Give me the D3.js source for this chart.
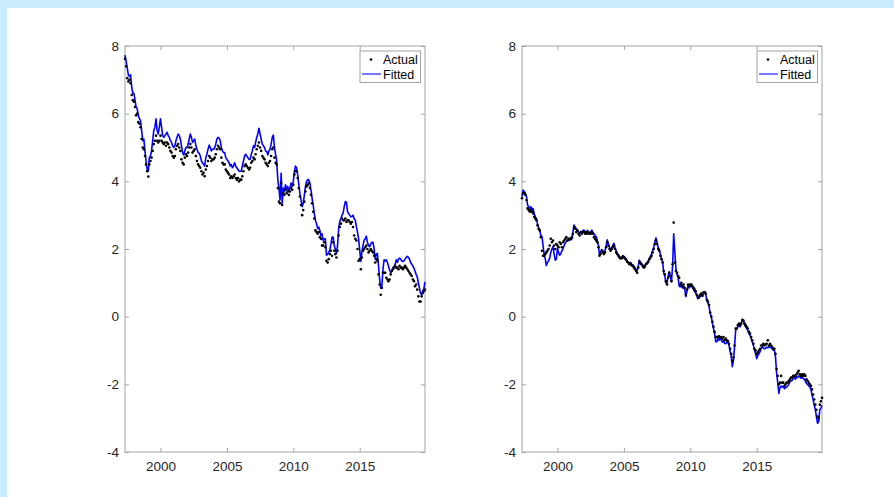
<!DOCTYPE html>
<html>
<head>
<meta charset="utf-8">
<script src="https://cdn.jsdelivr.net/npm/d3@7"></script>
<style>
html,body{margin:0;padding:0;background:#c9ecfc;}
svg{display:block;}
text{font-family:"Liberation Sans",Arial,Helvetica,sans-serif;}
</style>
</head>
<body>
<svg id="chart" width="894" height="497"></svg>
<script>
// ---- data: monthly observations, May 1997 .. Dec 2019 ----
const startYear = 1997, startMonth = 4; // May (0-based)
const yTicks = [-4, -2, 0, 2, 4, 6, 8];
const xTickYears = [2000, 2005, 2010, 2015];
const legendLabels = ["Actual", "Fitted"];

// Left panel
const actualLeft = [
  7.62,7.4,7.05,6.95,7.0,6.9,6.55,6.4,
  6.35,6.2,5.95,6.0,5.75,5.7,5.6,5.25,5.0,4.95,4.75,4.5,
  4.3,4.14,4.5,4.6,4.7,4.9,5.1,5.2,5.35,5.2,5.15,5.2,
  5.35,5.2,5.15,5.1,5.15,5.05,5.15,5.1,5.0,4.9,4.85,4.75,
  4.7,4.75,4.95,5.05,5.1,5.0,4.9,4.65,4.55,4.5,4.7,4.8,
  4.75,4.85,5.0,5.1,5.0,4.85,4.9,4.95,4.75,4.6,4.5,4.45,
  4.4,4.3,4.2,4.25,4.15,4.35,4.45,4.6,4.75,4.7,4.6,4.65,
  4.65,4.7,4.8,4.95,5.05,5.0,4.95,4.7,4.55,4.5,4.5,4.35,
  4.3,4.25,4.2,4.1,4.15,4.1,4.15,4.2,4.1,4.05,4.1,4.0,
  4.05,4.05,4.15,4.3,4.45,4.5,4.45,4.4,4.35,4.4,4.55,4.6,
  4.7,4.65,4.8,4.95,5.05,5.15,5.0,4.9,4.75,4.7,4.65,4.55,
  4.5,4.45,4.55,4.6,4.75,4.95,5.0,4.7,4.55,4.5,3.8,3.4,
  3.35,3.95,3.3,3.65,3.6,3.75,3.65,3.7,3.6,3.7,3.8,3.75,
  3.9,4.2,4.3,4.3,4.1,3.8,3.55,3.3,3.0,3.15,3.4,3.7,
  3.85,3.9,3.95,3.8,3.6,3.35,3.1,2.9,2.55,2.5,2.45,2.5,
  2.35,2.3,2.1,2.1,2.2,2.05,1.65,1.6,1.7,1.85,1.95,1.8,
  2.2,1.95,1.85,1.75,1.95,2.4,2.65,2.75,2.9,2.85,2.85,2.9,
  2.8,2.85,2.85,2.8,2.75,2.8,2.65,2.4,2.3,2.25,2.0,1.65,
  1.7,1.4,1.75,1.95,2.0,2.05,2.1,2.0,1.9,1.95,2.0,1.95,
  1.9,1.8,1.6,1.7,1.65,1.25,0.95,0.65,0.85,1.3,1.3,1.3,
  1.15,1.1,1.05,1.1,1.25,1.35,1.4,1.45,1.5,1.45,1.45,1.4,
  1.5,1.45,1.45,1.4,1.45,1.5,1.45,1.4,1.35,1.3,1.25,1.2,
  1.1,1.05,0.9,0.95,0.8,0.6,0.45,0.45,0.6,0.7,0.75,0.8
];
const fittedLeft = [
  7.73,7.55,7.35,7.15,7.1,7.15,6.8,6.6,
  6.6,6.4,6.2,6.15,5.95,5.85,5.8,5.5,5.2,5.25,4.9,4.6,
  4.35,4.3,4.7,4.75,4.9,5.2,5.5,5.6,5.85,5.5,5.4,5.6,
  5.85,5.6,5.35,5.3,5.35,5.4,5.45,5.35,5.3,5.2,5.15,5.05,
  5.0,5.05,5.2,5.3,5.4,5.35,5.25,5.05,4.85,4.78,4.9,5.0,
  5.0,5.1,5.25,5.4,5.3,5.15,5.2,5.25,5.05,4.95,4.85,4.83,
  4.75,4.6,4.55,4.5,4.45,4.7,4.8,4.95,5.07,5.0,4.9,4.95,
  4.95,5.0,5.1,5.25,5.3,5.28,5.2,5.0,4.9,4.85,4.85,4.7,
  4.65,4.6,4.55,4.45,4.5,4.4,4.45,4.55,4.45,4.4,4.35,4.3,
  4.3,4.3,4.45,4.6,4.75,4.8,4.75,4.7,4.65,4.65,4.8,4.9,
  5.05,5.0,5.15,5.3,5.4,5.57,5.4,5.25,5.1,5.05,5.0,4.9,
  4.88,4.78,4.9,4.95,5.1,5.3,5.37,5.0,4.8,4.6,4.05,3.8,
  3.45,4.24,3.35,3.8,3.7,3.9,3.75,3.85,3.7,3.8,3.95,3.85,
  4.0,4.3,4.45,4.4,4.2,3.9,3.65,3.45,3.25,3.35,3.6,3.85,
  4.0,4.05,4.05,3.95,3.75,3.5,3.3,3.05,2.85,2.75,2.6,2.65,
  2.55,2.4,2.45,2.25,2.3,2.3,1.82,1.85,1.9,1.97,2.15,2.35,
  2.35,2.1,2.0,1.87,2.1,2.6,2.81,2.9,3.0,3.06,3.25,3.4,
  3.38,3.1,3.05,3.0,2.95,2.96,3.0,2.9,2.85,2.66,2.5,2.3,
  1.97,1.63,1.9,2.1,2.26,2.3,2.38,2.2,2.1,2.07,2.15,2.2,
  2.2,2.0,1.7,1.85,1.87,1.5,1.1,0.84,0.9,1.4,1.68,1.65,
  1.68,1.6,1.5,1.38,1.3,1.35,1.45,1.48,1.55,1.68,1.6,1.7,
  1.73,1.7,1.65,1.63,1.65,1.7,1.75,1.78,1.75,1.7,1.6,1.55,
  1.5,1.43,1.35,1.25,1.18,1.0,0.85,0.69,0.65,0.75,0.84,1.03
];

// Right panel
const actualRight = [
  3.5,3.65,3.65,3.6,3.45,3.2,3.15,3.1,
  3.15,3.1,3.05,2.95,2.9,2.85,2.7,2.6,2.55,2.35,1.95,1.8,
  1.8,1.85,1.9,1.95,2.0,2.1,2.3,2.2,2.25,2.1,2.0,2.15,
  2.1,2.05,2.2,2.15,2.05,2.2,2.25,2.3,2.35,2.25,2.3,2.3,
  2.3,2.35,2.45,2.65,2.6,2.5,2.55,2.45,2.4,2.5,2.45,2.5,
  2.5,2.45,2.5,2.45,2.5,2.45,2.45,2.5,2.45,2.35,2.3,2.25,
  2.2,2.05,1.8,1.85,1.95,1.9,1.85,1.9,2.05,2.2,2.1,2.0,
  1.95,2.0,2.05,2.1,2.0,1.9,1.85,1.8,1.75,1.72,1.73,1.78,
  1.75,1.72,1.68,1.62,1.6,1.55,1.57,1.52,1.5,1.45,1.4,1.35,
  1.3,1.45,1.62,1.58,1.55,1.5,1.45,1.48,1.55,1.58,1.62,1.7,
  1.75,1.8,1.9,2.0,2.15,2.25,2.15,2.0,1.95,1.8,1.7,1.6,
  1.35,1.25,1.05,0.95,1.15,1.3,1.2,1.05,1.55,2.78,1.6,1.35,
  1.3,1.2,1.15,0.95,1.0,0.9,0.95,0.85,0.65,0.8,0.95,0.9,
  0.95,0.95,0.9,0.85,0.8,0.75,0.65,0.55,0.6,0.65,0.68,0.62,
  0.72,0.72,0.68,0.5,0.45,0.35,0.12,0.0,-0.15,-0.3,-0.45,-0.6,
  -0.6,-0.6,-0.58,-0.62,-0.6,-0.65,-0.6,-0.7,-0.65,-0.7,-0.72,-0.8,
  -0.95,-1.1,-1.3,-1.2,-0.85,-0.35,-0.35,-0.25,-0.2,-0.25,-0.2,-0.1,
  -0.12,-0.2,-0.25,-0.3,-0.35,-0.45,-0.5,-0.6,-0.7,-0.8,-0.95,-1.0,
  -1.1,-1.05,-1.0,-0.95,-0.85,-0.85,-0.8,-0.85,-0.82,-0.8,-0.7,-0.85,
  -0.8,-0.85,-0.9,-0.95,-0.95,-1.1,-1.55,-1.75,-2.0,-1.95,-1.75,-1.95,
  -1.95,-2.05,-2.0,-1.95,-1.95,-1.9,-1.85,-1.8,-1.8,-1.75,-1.75,-1.75,
  -1.7,-1.65,-1.6,-1.7,-1.75,-1.7,-1.75,-1.7,-1.75,-1.85,-1.9,-1.95,
  -2.0,-2.05,-2.15,-2.3,-2.45,-2.6,-2.75,-2.95,-3.0,-2.6,-2.5,-2.4
];
const fittedRight = [
  3.55,3.74,3.7,3.65,3.55,3.3,3.25,3.2,
  3.25,3.15,3.2,3.05,2.95,2.9,2.75,2.62,2.55,2.4,2.37,2.1,
  1.83,1.7,1.51,1.6,1.65,1.73,1.9,2.0,2.07,1.85,1.67,1.7,
  2.02,1.9,1.82,1.85,1.95,2.0,2.1,2.17,2.22,2.27,2.25,2.27,
  2.27,2.3,2.5,2.71,2.65,2.6,2.56,2.5,2.45,2.47,2.5,2.55,
  2.56,2.5,2.45,2.55,2.5,2.47,2.5,2.56,2.5,2.45,2.4,2.37,
  2.25,2.1,1.83,1.9,1.98,1.95,1.88,1.95,2.1,2.27,2.15,2.05,
  1.97,2.05,2.1,2.17,2.05,1.95,1.88,1.82,1.78,1.73,1.75,1.8,
  1.78,1.75,1.7,1.65,1.6,1.58,1.6,1.55,1.53,1.5,1.45,1.4,
  1.36,1.5,1.67,1.6,1.55,1.53,1.45,1.5,1.58,1.6,1.65,1.7,
  1.78,1.85,1.95,2.05,2.2,2.33,2.2,2.05,1.98,1.85,1.7,1.63,
  1.3,1.2,1.0,0.99,1.2,1.33,1.2,1.04,1.5,2.45,1.9,1.43,
  1.25,1.15,0.9,0.88,0.95,0.85,0.89,0.8,0.59,0.75,0.94,0.85,
  0.9,0.94,0.85,0.8,0.74,0.7,0.6,0.54,0.55,0.6,0.65,0.6,
  0.7,0.74,0.65,0.49,0.4,0.3,0.1,0.0,-0.2,-0.35,-0.5,-0.74,
  -0.74,-0.64,-0.7,-0.65,-0.69,-0.75,-0.72,-0.79,-0.8,-0.76,-0.74,-0.85,
  -1.04,-1.2,-1.48,-1.3,-0.9,-0.4,-0.35,-0.3,-0.25,-0.3,-0.2,-0.08,
  -0.1,-0.25,-0.3,-0.35,-0.4,-0.5,-0.55,-0.64,-0.75,-0.85,-0.99,-1.1,
  -1.24,-1.15,-1.1,-1.04,-0.95,-0.9,-0.92,-0.95,-0.94,-0.9,-0.92,-0.9,
  -0.9,-0.92,-0.95,-0.99,-1.0,-1.19,-1.68,-1.95,-2.27,-2.1,-2.05,-2.08,
  -2.05,-2.13,-2.1,-2.08,-2.05,-2.0,-1.93,-1.9,-1.88,-1.83,-1.8,-1.85,
  -1.78,-1.8,-1.75,-1.78,-1.82,-1.78,-1.83,-1.85,-1.9,-1.98,-2.0,-2.05,
  -2.08,-2.15,-2.32,-2.45,-2.62,-2.75,-2.96,-3.15,-3.1,-2.75,-2.71,-2.62
];

// ---- drawing ----
const svg = d3.select("#chart");
svg.append("rect").attr("x",0).attr("y",0).attr("width",894).attr("height",497).attr("fill","#c9ecfc");
svg.append("rect").attr("x",7).attr("y",8).attr("width",887).attr("height",489).attr("fill","#ffffff");

const dates = actualLeft.map((_, i) => new Date(startYear, startMonth + i, 1));
const panels = [
  {left:125, right:425, actual:actualLeft, fitted:fittedLeft},
  {left:522, right:822, actual:actualRight, fitted:fittedRight}
];
const plotTop = 46, plotBottom = 452;
const axisColor = "#a3a3a3", textColor = "#262626";

panels.forEach(p => {
  const x = d3.scaleTime().domain(d3.extent(dates)).range([p.left, p.right]);
  const y = d3.scaleLinear().domain([-4, 8]).range([plotBottom, plotTop]);
  const g = svg.append("g");

  // box
  g.append("rect").attr("x", p.left).attr("y", plotTop)
    .attr("width", p.right - p.left).attr("height", plotBottom - plotTop)
    .attr("fill", "none").attr("stroke", axisColor).attr("stroke-width", 1);

  const xt = xTickYears.map(yr => new Date(yr, 0, 1));
  const ax = g.append("g").attr("transform", `translate(0,${plotBottom})`)
    .call(d3.axisBottom(x).tickValues(xt).tickFormat(d3.timeFormat("%Y")).tickSizeInner(-4).tickSizeOuter(0).tickPadding(9));
  const ay = g.append("g").attr("transform", `translate(${p.left},0)`)
    .call(d3.axisLeft(y).tickValues(yTicks).tickFormat(d => String(d)).tickSizeInner(-4).tickSizeOuter(0).tickPadding(6));
  const axT = g.append("g").attr("transform", `translate(0,${plotTop})`)
    .call(d3.axisTop(x).tickValues(xt).tickFormat("").tickSizeInner(-4).tickSizeOuter(0));
  const ayR = g.append("g").attr("transform", `translate(${p.right},0)`)
    .call(d3.axisRight(y).tickValues(yTicks).tickFormat("").tickSizeInner(-4).tickSizeOuter(0));
  [ax, ay, axT, ayR].forEach(a => {
    a.select(".domain").remove();
    a.selectAll("line").attr("stroke", axisColor);
    a.selectAll("text").attr("fill", textColor).style("font-size", "13.5px")
      .style("font-family", '"Liberation Sans", Arial, sans-serif');
  });

  // fitted line
  const line = d3.line().x((d, i) => x(dates[i])).y(d => y(d));
  g.append("path").datum(p.fitted).attr("d", line)
    .attr("fill", "none").attr("stroke", "#0000ff").attr("stroke-width", 1.6)
    .attr("stroke-linejoin", "round");

  // actual dots
  g.selectAll("circle.act").data(p.actual).join("circle").attr("class", "act")
    .attr("cx", (d, i) => x(dates[i])).attr("cy", d => y(d)).attr("r", 1.3).attr("fill", "#000");

  // legend
  const lx = p.right - 65, ly = 51;
  const lg = g.append("g").attr("transform", `translate(${lx},${ly})`);
  lg.append("rect").attr("x", 0).attr("y", 0).attr("width", 60.5).attr("height", 31.5)
    .attr("fill", "#fff").attr("stroke", axisColor).attr("stroke-width", 1);
  lg.append("circle").attr("cx", 11).attr("cy", 8.5).attr("r", 1.3).attr("fill", "#000");
  lg.append("line").attr("x1", 2).attr("x2", 21).attr("y1", 23).attr("y2", 23)
    .attr("stroke", "#0000ff").attr("stroke-width", 1.5).attr("stroke-opacity", 0.7);
  lg.selectAll("text").data(legendLabels).join("text")
    .attr("x", 23).attr("y", (d, i) => 12.5 + i * 15)
    .attr("fill", "#000").style("font-size", "12.5px").text(d => d);
});
</script>
</body>
</html>
